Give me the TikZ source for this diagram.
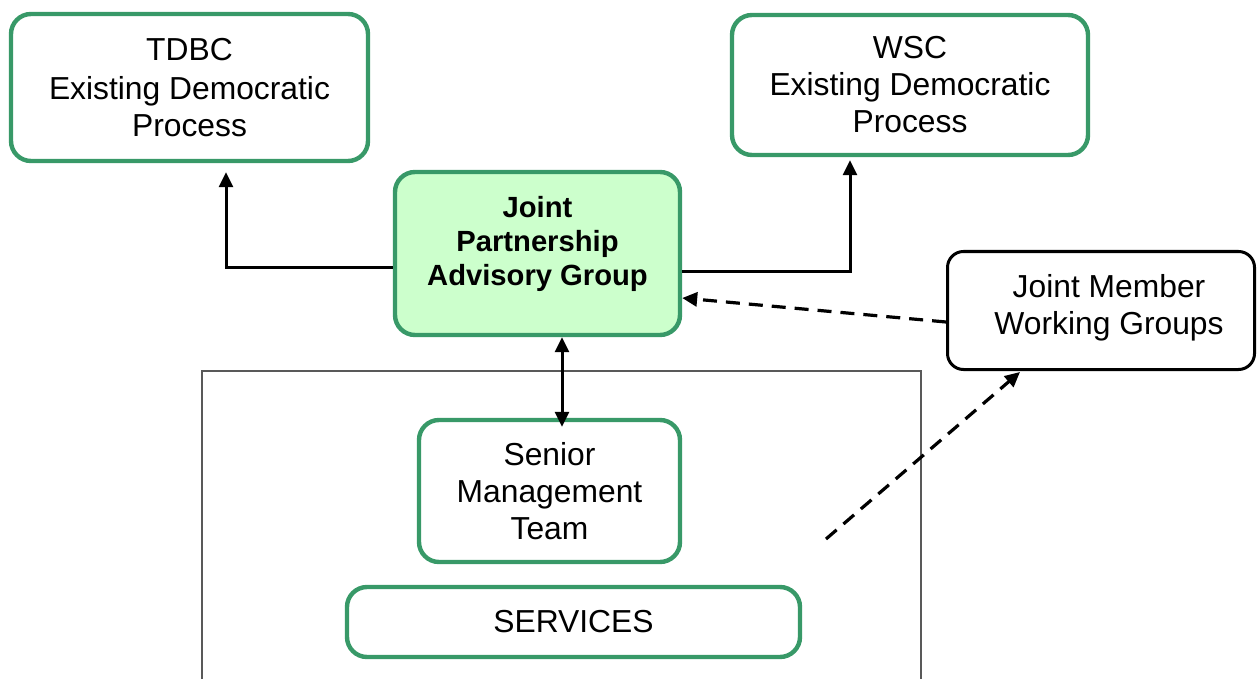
\documentclass[tikz,border=0pt]{standalone}
\usepackage{fontspec}
\setmainfont{Liberation Sans}
\usetikzlibrary{arrows.meta}
\definecolor{bgreen}{RGB}{56,153,104}
\definecolor{lgreen}{RGB}{204,255,204}
\begin{document}
\begin{tikzpicture}[x=0.5pt,y=-0.5pt,
  gbox/.style={draw=bgreen,line width=2.2pt,rounded corners=10pt,align=center,
    font=\fontsize{15.9}{18.5}\selectfont,inner sep=0pt},
  kbox/.style={draw=black,line width=1.5pt,rounded corners=8pt,align=center,
    font=\fontsize{15.9}{18.5}\selectfont,inner sep=0pt},
  tip/.style={Triangle[length=7.5pt,width=7pt]},
  arr/.style={line width=1.5pt,-{Triangle[length=7.5pt,width=7pt]}},
  darr/.style={line width=1.5pt,{Triangle[length=7.5pt,width=7pt]}-{Triangle[length=7.5pt,width=7pt]}},
  dsh/.style={line width=1.6pt,dash pattern=on 7pt off 4.5pt,-{Triangle[length=7.5pt,width=7pt]}}]
\useasboundingbox (0,0) rectangle (1257,679);
\draw[draw=black!65,line width=0.6pt] (202,371) rectangle (921,700);
\node[gbox,minimum width=178.5pt,minimum height=73.5pt] (tdbc) at (189.5,87.5) {\raisebox{1pt}{TDBC}\\Existing Democratic\\Process};
\node[gbox,minimum width=178pt,minimum height=70pt] (wsc) at (910,85) {WSC\\Existing Democratic\\Process};
\node[gbox,fill=lgreen,minimum width=142.5pt,minimum height=81.5pt,font=\fontsize{14.6}{17}\selectfont\bfseries] (jpag) at (537.5,253.5) {Joint\\Partnership\\Advisory Group\\[-10pt]\strut};
\node[kbox,minimum width=153.5pt,minimum height=59pt] (jmwg) at (1101,310.5) {\hspace*{8pt}Joint Member\\\hspace*{8pt}Working Groups\\[-18pt]\strut};
\node[gbox,minimum width=130.5pt,minimum height=71pt] (smt) at (549.5,491) {Senior\\Management\\Team};
\node[gbox,minimum width=226.5pt,minimum height=35pt] (serv) at (573.5,622) {\raisebox{1pt}{SERVICES}};
\coordinate (dstart) at (826,539);
\draw[arr] ([yshift=-6.75pt]jpag.west) -| ([xshift=18.25pt,yshift=-4.5pt]tdbc.south);
\draw[arr] ([yshift=-8.75pt]jpag.east) -| ([xshift=-30pt,yshift=-1.5pt]wsc.south);
\draw[darr] ([xshift=12.25pt]jpag.south) -- ([xshift=6.25pt,yshift=-4.5pt]smt.north);
\draw[dsh] ([yshift=-5.75pt]jmwg.west) -- ([yshift=-22.25pt]jpag.east);
\draw[dsh] (dstart) -- ([xshift=-40.5pt,yshift=-0.5pt]jmwg.south);
\end{tikzpicture}
\end{document}
